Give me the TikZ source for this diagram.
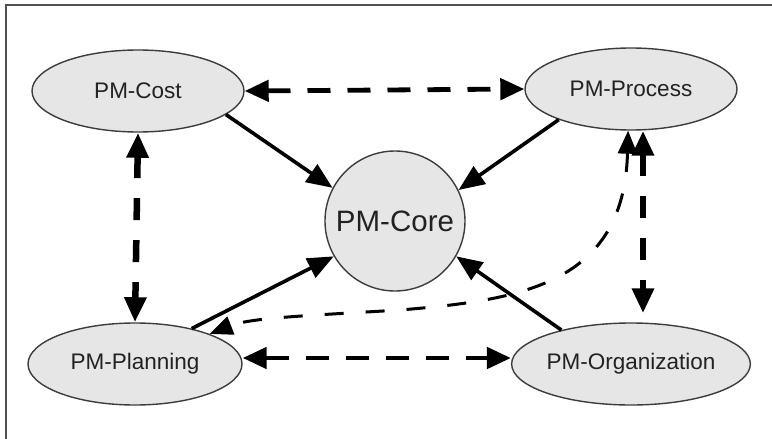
\documentclass[tikz,border=0pt]{standalone}
\usepackage{fontspec}
\setmainfont{Liberation Sans}
\usetikzlibrary{shapes.geometric,arrows.meta}
\definecolor{ellipseline}{HTML}{3C3C3C}
\definecolor{ellipsefill}{HTML}{E6E6E6}
\definecolor{labeltext}{HTML}{222222}
\definecolor{framecol}{HTML}{505050}
\begin{document}
\begin{tikzpicture}[x=1pt,y=-1pt,
  module/.style={ellipse, draw=ellipseline, fill=ellipsefill, line width=1.4pt,
    minimum width=212pt, minimum height=82pt, inner sep=0pt,
    font=\fontsize{22.5}{26}\selectfont, text=labeltext},
  corenode/.style={circle, draw=ellipseline, fill=ellipsefill, line width=1.4pt,
    minimum size=140pt, inner sep=0pt,
    font=\fontsize{29.5}{33}\selectfont, text=labeltext},
  uses/.style={line width=3.6pt, -{Triangle[length=26pt,width=21pt]}},
  peerh/.style={line width=4.8pt, dash pattern=on 23pt off 17pt,
    {Triangle[length=24pt,width=21pt]}-{Triangle[length=24pt,width=21pt]}},
  peerv/.style={line width=6.5pt, dash pattern=on 22pt off 20pt,
    {Triangle[length=25pt,width=21pt]}-{Triangle[length=25pt,width=21pt]}},
  link/.style={line width=3pt, dash pattern=on 19pt off 22pt,
    {Triangle[length=23pt,width=19pt]}-{Triangle[length=23pt,width=19pt]}},
]
\useasboundingbox (0,0) rectangle (772,439);

% frame edges
\draw[framecol, line width=2pt] (6,439) -- (6,5) -- (772,5);

% modules
\node[module] (cost) at (138,91) {PM-Cost};
\node[module] (proc) at (631,89) {PM-Process};
\node[module, minimum width=214pt] (plan) at (135,364) {PM-Planning};
\node[module] (org) at (631,364) {PM-Organization};
\node[corenode] (core) at (395,221) {PM-Core};

% dependencies on the core
\draw[uses] (cost.-15) -- (core.152);
\draw[uses] (proc.203) -- (core.26);
\draw[uses] (plan.32) -- (core.210);
\draw[uses] (org.154) -- (core.-30);

% peer relations
\draw[peerh] (cost.east) -- (proc.west);
\draw[peerh] ([yshift=6pt]plan.east) -- ([yshift=6pt]org.west);
\draw[peerv] (cost.south) -- (plan.north);
\draw[peerv] ([xshift=12pt]proc.south) -- ([xshift=12pt, yshift=9pt]org.north);

% process <-> planning
\draw[link] (proc.-94) .. controls (624,285) and (520,300) .. (400,310)
  .. controls (300,316) and (250,318) .. (plan.22);
\end{tikzpicture}
\end{document}
